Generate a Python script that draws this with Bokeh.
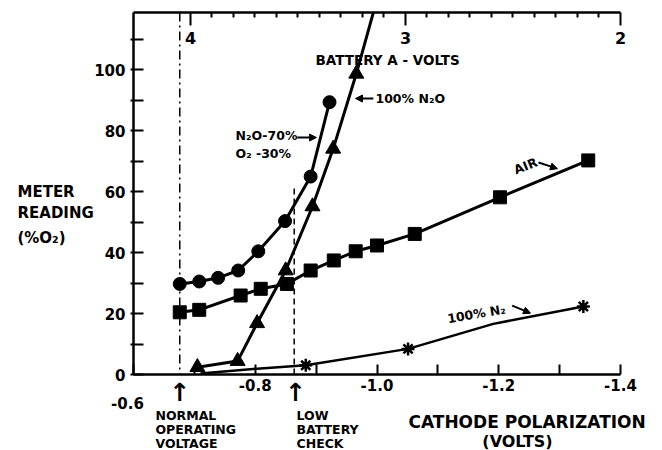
from bokeh.plotting import figure
from bokeh.models import (Range1d, LinearAxis, FixedTicker, CustomJSTickFormatter,
                          Label, Arrow, NormalHead, Span)
from bokeh.core.properties import value
from bokeh.embed import file_html
from bokeh.resources import INLINE

# ---------------- data ----------------
# N2O 70% / O2 30% (circles)
mix_x = [-0.676, -0.708, -0.739, -0.772, -0.805, -0.849, -0.891, -0.922]
mix_y = [29.7, 30.5, 31.7, 34.1, 40.4, 50.3, 64.9, 89.3]
# 100% N2O (triangles)
n2o_x = [-0.705, -0.771, -0.803, -0.850, -0.894, -0.928, -0.966]
n2o_y = [2.4, 4.4, 16.8, 34.1, 55.1, 74.0, 98.6]
# curve of 100% N2O continues above the top of the chart
n2o_curve_x = n2o_x + [-0.999]
n2o_curve_y = n2o_y + [122.3]
# AIR (squares)
air_x = [-0.676, -0.708, -0.776, -0.809, -0.852, -0.891, -0.929, -0.965, -1.000, -1.062, -1.202, -1.347]
air_y = [20.4, 21.2, 25.9, 28.1, 29.7, 34.1, 37.4, 40.4, 42.3, 46.1, 58.1, 70.2]
# 100% N2 (asterisks)
n2_x = [-0.883, -1.051, -1.339]
n2_y = [3.0, 8.4, 22.3]
# hand-drawn N2 curve
n2_curve_x = [-0.71, -0.803, -0.883, -1.051, -1.191, -1.339]
n2_curve_y = [0.3, 1.9, 3.0, 8.4, 16.6, 22.3]

normal_voltage = -0.676
low_battery = -0.864
low_battery_top = 61.0

x_ticks = [-0.6, -0.8, -1.0, -1.2, -1.4]
x_minor = [-0.7, -0.9, -1.1, -1.3]
y_ticks = [0, 20, 40, 60, 80, 100]
y_minor = [10, 30, 50, 70, 90, 110]
bat_ticks = [4, 3, 2]
bat_labels = ["4", "3", "2"]
bat_minor = [round(2 + 0.1 * i, 1) for i in range(1, 20) if i != 10]

FONT = "DejaVu Sans"

p = figure(width=662, height=450, x_range=Range1d(-0.6, -1.4), y_range=Range1d(0, 118.7),
           x_axis_type=None, y_axis_type=None, output_backend="svg", toolbar_location=None,
           min_border_left=133, min_border_right=42, min_border_top=12, min_border_bottom=76)
p.outline_line_color = None
p.background_fill_color = "white"
p.extra_x_ranges = {"bat": Range1d(4.265, 2.0)}

def style_axis(ax, size="15px"):
    ax.axis_line_width = 2.5
    ax.axis_line_color = "black"
    ax.major_tick_line_width = 2
    ax.minor_tick_line_width = 2
    ax.major_tick_line_color = "black"
    ax.minor_tick_line_color = "black"
    ax.major_label_text_font = FONT
    ax.major_label_text_font_style = "bold"
    ax.major_label_text_font_size = size
    ax.major_label_text_color = "black"

xaxis = LinearAxis(ticker=FixedTicker(ticks=x_ticks, minor_ticks=x_minor),
                   formatter=CustomJSTickFormatter(code="return tick > -0.65 ? '' : '-' + Math.abs(tick).toFixed(1);"),
                   major_tick_in=10, major_tick_out=0, minor_tick_in=10, minor_tick_out=0,
                   major_label_standoff=4)
style_axis(xaxis)
p.add_layout(xaxis, "below")

yaxis = LinearAxis(ticker=FixedTicker(ticks=y_ticks, minor_ticks=y_minor),
                   major_tick_in=10, major_tick_out=3, minor_tick_in=10, minor_tick_out=3,
                   major_label_standoff=5)
style_axis(yaxis)
p.add_layout(yaxis, "left")

top = LinearAxis(x_range_name="bat", ticker=FixedTicker(ticks=bat_ticks, minor_ticks=bat_minor),
                 formatter=CustomJSTickFormatter(code="return '';"),
                 major_tick_in=13, major_tick_out=0, minor_tick_in=5, minor_tick_out=0,
                 major_label_standoff=0)
style_axis(top, "1px")
p.add_layout(top, "above")

p.text(x=bat_ticks, y=[110.3] * 3, text=bat_labels, x_range_name="bat", level="overlay",
       text_font=value(FONT), text_font_style="bold", text_font_size="16px",
       text_align="center", text_baseline="middle", text_color="black")

# reference lines
p.add_layout(Span(location=normal_voltage, dimension="height", line_color="black",
                  line_width=1.5, line_dash="9 4 2 4"))
p.line([low_battery, low_battery], [0, low_battery_top], line_color="black",
       line_width=1.5, line_dash="6 4")

# curves
LW = 3
p.line(mix_x, mix_y, line_color="black", line_width=LW)
p.line(n2o_curve_x, n2o_curve_y, line_color="black", line_width=LW)
p.line(air_x, air_y, line_color="black", line_width=LW)
p.line(n2_curve_x, n2_curve_y, line_color="black", line_width=2.5)

p.scatter(mix_x, mix_y, marker="circle", size=13, fill_color="black", line_color="black")
p.scatter(n2o_x, n2o_y, marker="triangle", size=15, fill_color="black", line_color="black")
p.scatter(air_x, air_y, marker="square", size=13, fill_color="black", line_color="black")
p.scatter(n2_x, n2_y, marker="asterisk", size=13, line_color="black", line_width=2.5)

def lab(x, y, text, size="12.5px", align="left", angle=0.0):
    p.add_layout(Label(x=x, y=y, text=text, text_font=FONT, text_font_style="bold",
                       text_font_size=size, text_align=align, text_baseline="middle",
                       text_color="black", angle=angle))

def arr(x0, y0, x1, y1):
    p.add_layout(Arrow(x_start=x0, y_start=y0, x_end=x1, y_end=y1, line_width=2,
                       line_color="black",
                       end=NormalHead(size=7, fill_color="black", line_color="black")))

# texts inside the frame
lab(-0.899, 103.0, "BATTERY A - VOLTS", "13.5px")
lab(-0.9975, 90.5, "100% N₂O")
arr(-0.994, 90.5, -0.9647, 90.5)
lab(-0.7676, 78.4, "N₂O-70%")
lab(-0.7676, 72.6, "O₂ -30%")
arr(-0.869, 77.7, -0.9006, 77.7)
lab(-1.244, 68.4, "AIR", "12.5px", "center", 0.38)
arr(-1.2653, 69.5, -1.2965, 67.5)
lab(-1.1634, 19.9, "100% N₂", "12.5px", "center", 0.17)
arr(-1.222, 22.6, -1.2522, 20.1)

# texts outside the frame: glyphs on the overlay level (not clipped)
def outside_text(xs, ys, texts, size, align="left", style="bold", font=FONT):
    p.text(x=xs, y=ys, text=texts, level="overlay", text_font=value(font),
           text_font_style=style, text_font_size=size, text_align=align,
           text_baseline="middle", text_color="black")

outside_text([-0.6361] * 3 + [-0.8678] * 3, [-13.4, -18.1, -22.5] * 2,
             ["NORMAL", "OPERATING", "VOLTAGE", "LOW", "BATTERY", "CHECK"], "12.5px")
outside_text([-0.5901], [-9.2], ["-0.6"], "15px", "center")
outside_text([-1.0517], [-15.6], ["CATHODE POLARIZATION"], "17px")
outside_text([-1.2308], [-22.0], ["(VOLTS)"], "16px", "center")
outside_text([-0.4094] * 3, [59.7, 52.8, 44.6], ["METER", "READING", "(%O₂)"], "15px")

# upward arrows below the axis
arrow_x = [normal_voltage, low_battery - 0.002]
outside_text(arrow_x, [-6.0] * 2, ["↑", "↑"], "25px", "center", "bold")

open("out.html", "w").write(file_html(p, INLINE))
